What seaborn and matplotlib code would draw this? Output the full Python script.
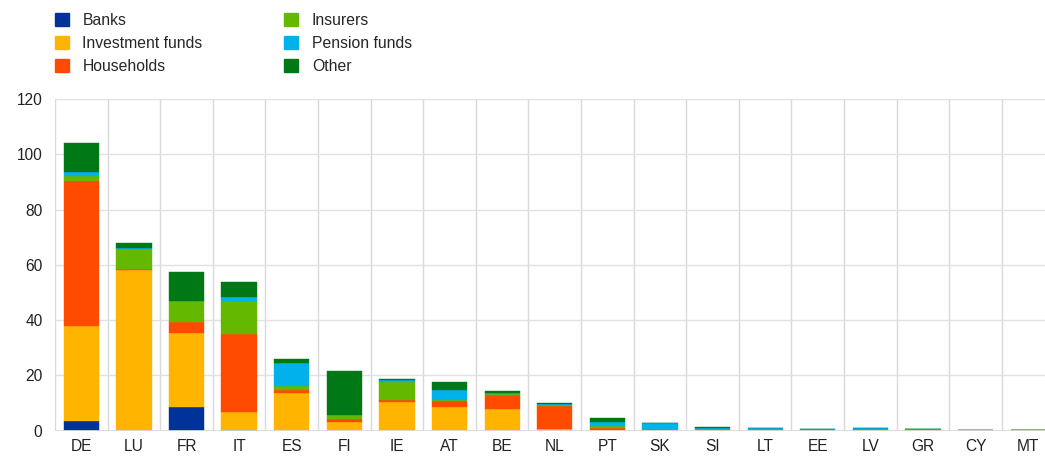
import matplotlib
matplotlib.use("Agg")
import matplotlib.pyplot as plt
from matplotlib.patches import Patch
import seaborn as sns
import numpy as np

countries = ["DE", "LU", "FR", "IT", "ES", "FI", "IE", "AT", "BE", "NL",
             "PT", "SK", "SI", "LT", "EE", "LV", "GR", "CY", "MT"]

banks       = [3.4, 0.0, 8.7, 0.3, 0.0, 0.0, 0.0, 0.0, 0.0, 0.0, 0.0, 0.0, 0.0, 0.0, 0.0, 0.0, 0.0, 0.0, 0.0]
inv_funds   = [34.6, 58.0, 26.8, 6.6, 13.7, 3.1, 10.3, 8.7, 7.8, 0.7, 0.4, 0.4, 0.2, 0.1, 0.05, 0.1, 0.2, 0.05, 0.1]
households  = [52.3, 0.5, 3.7, 28.1, 0.9, 1.0, 0.8, 2.2, 5.0, 8.3, 0.4, 0.0, 0.0, 0.0, 0.0, 0.0, 0.0, 0.0, 0.0]
insurers    = [1.8, 7.2, 7.9, 11.9, 1.7, 1.7, 6.6, 0.3, 0.3, 0.2, 1.0, 0.0, 0.05, 0.0, 0.1, 0.2, 0.3, 0.1, 0.15]
pension     = [1.4, 0.3, 0.0, 1.3, 8.3, 0.0, 0.8, 3.4, 0.5, 0.5, 1.3, 2.3, 0.7, 0.8, 0.4, 0.6, 0.0, 0.0, 0.0]
other       = [10.7, 1.8, 10.4, 5.7, 1.4, 15.8, 0.2, 3.1, 0.6, 0.5, 1.4, 0.1, 0.3, 0.1, 0.1, 0.1, 0.1, 0.1, 0.0]

series_names = ["Banks", "Investment funds", "Households", "Insurers", "Pension funds", "Other"]
series_vals = [banks, inv_funds, households, insurers, pension, other]
colors = ["#003299", "#FFB400", "#FF4B00", "#65B800", "#00B1EA", "#007816"]

y_ticks = [0, 20, 40, 60, 80, 100, 120]

sns.set_theme(style="white")
plt.rcParams["font.family"] = ["Liberation Sans", "DejaVu Sans"]

fig = plt.figure(figsize=(10.45, 4.57), dpi=100)
ax = fig.add_axes([55 / 1045, 1 - 430.7 / 457, 1 - 55 / 1045, (430.7 - 99) / 457])

bottom = np.zeros(len(countries))
for name, vals, c in zip(series_names, series_vals, colors):
    v = np.array(vals, dtype=float)
    sns.barplot(x=countries, y=v, bottom=bottom, color=c, width=0.67,
                ax=ax, saturation=1, edgecolor=c, linewidth=0.3, zorder=3)
    bottom += v

ax.set_ylim(0, 120)
ax.set_xlim(-0.5, 18.32)
ax.set_yticks(y_ticks)
ax.set_yticklabels([str(t) for t in y_ticks])
ax.set_xticks(range(len(countries)))
ax.set_xticklabels(countries)

# vertical gridlines at category boundaries, horizontal at ticks
for b in np.arange(-0.5, len(countries), 1.0):
    ax.axvline(b, color="#d9d9d9", lw=1.0, zorder=1)
for t in y_ticks[1:]:
    ax.axhline(t, color="#e1e1e1", lw=1.0, zorder=1)
ax.axhline(0, color="#d9d9d9", lw=2.0, zorder=4)

for s in ax.spines.values():
    s.set_visible(False)
ax.tick_params(axis="both", length=0, labelsize=11.2, colors="#222222")
ax.tick_params(axis="y", pad=9)
ax.tick_params(axis="x", pad=6)
ax.set_xlabel("")
ax.set_ylabel("")

handles = [Patch(facecolor=c, edgecolor=c) for c in colors]
fig.legend(handles, series_names, loc="upper left",
           bbox_to_anchor=(55 / 1045, 1 - 13 / 457), ncol=2, frameon=False,
           fontsize=11.3, handlelength=0.9, handleheight=0.9,
           handletextpad=0.85, columnspacing=5.2, labelspacing=0.5,
           borderpad=0, borderaxespad=0)

fig.savefig("out.png", dpi=100)
